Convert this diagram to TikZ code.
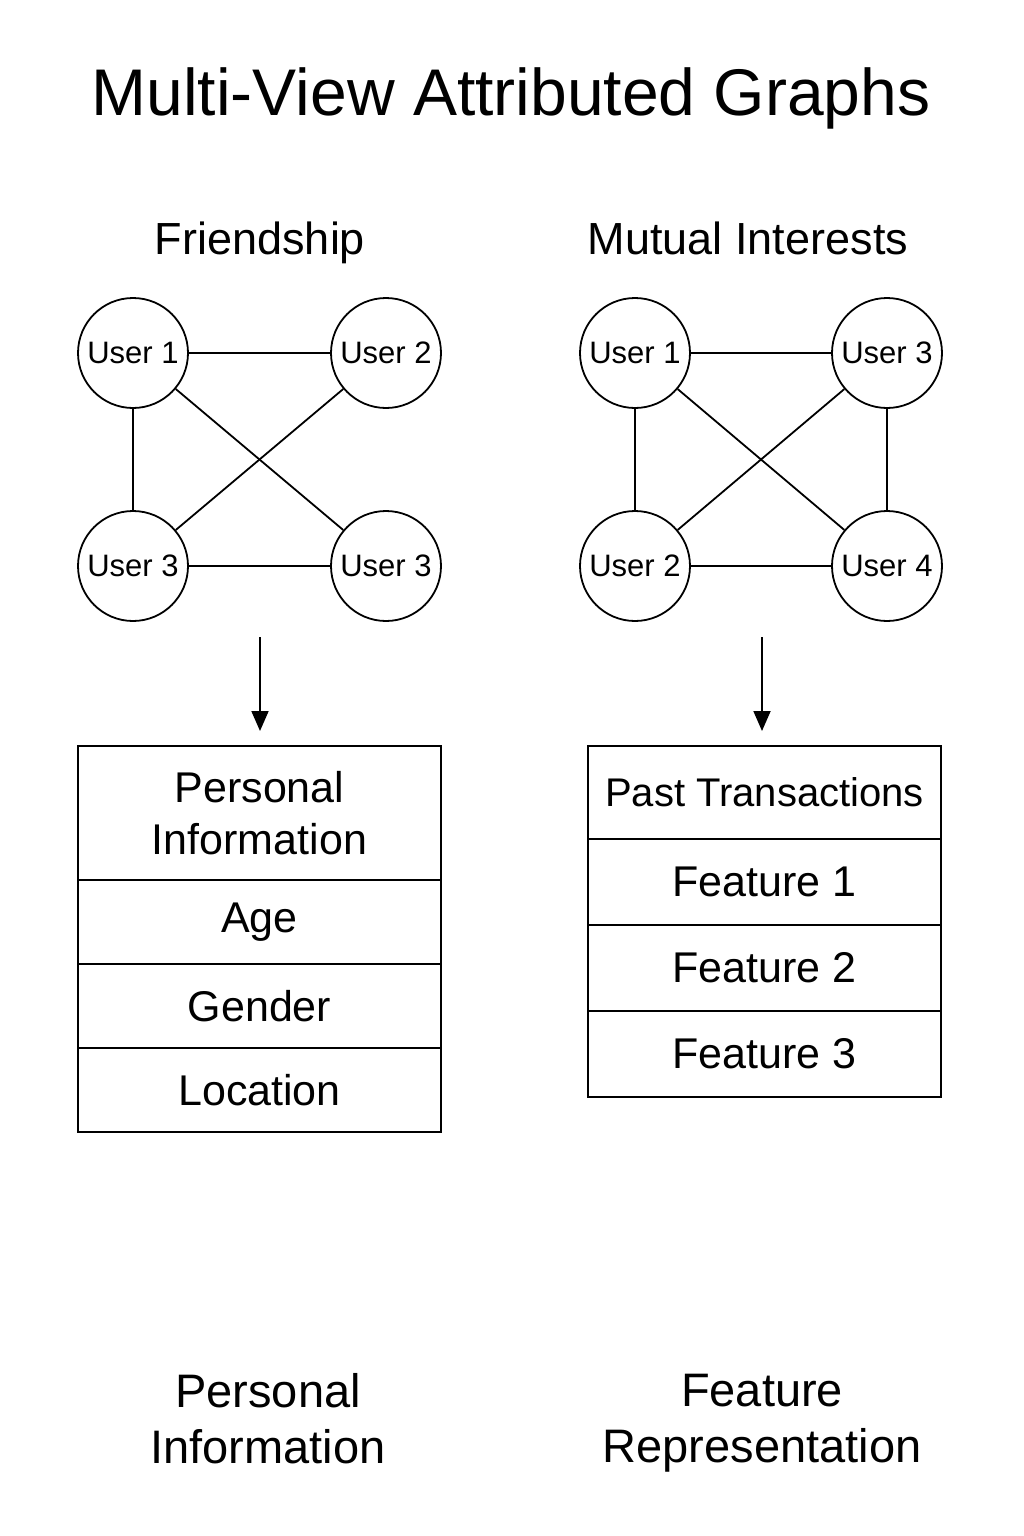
\documentclass[tikz,border=0pt]{standalone}
\usepackage{fontspec}
\setmainfont{Liberation Sans}
\usepackage{tikz}
\usetikzlibrary{arrows.meta,positioning,calc}

\begin{document}
\begin{tikzpicture}[x=1pt, y=-1pt, semithick, line width=1.8pt]
\tikzstyle{user}=[circle,draw=black,fill=white,minimum size=110pt,inner sep=0pt,font=\fontsize{31}{36}\selectfont]
\tikzstyle{head}=[anchor=base,font=\fontsize{45}{52}\selectfont]
\tikzstyle{foot}=[font=\fontsize{47}{56}\selectfont,align=center,text depth=0pt]
\tikzstyle{lrow}=[draw=black,outer sep=0pt,minimum width=363pt,minimum height=84pt,inner sep=0pt,align=center,font=\fontsize{43}{52}\selectfont]
\tikzstyle{rrow}=[draw=black,outer sep=0pt,minimum width=353pt,minimum height=86pt,inner sep=0pt,align=center,font=\fontsize{43}{52}\selectfont]
\tikzstyle{down}=[-{Triangle[width=17pt,length=20pt]}]
\useasboundingbox (0,0) rectangle (1024,1536);

% title and view names
\node[anchor=base,font=\fontsize{66}{76}\selectfont] (title) at (511,116) {Multi-View Attributed Graphs};
\node[head] (fhead) at (260,254) {Friendship};
\node[head] (mhead) at (748,254) {Mutual Interests};

% friendship view
\node[user] (f1) at (133,353) {User 1};
\node[user] (f2) at (386,353) {User 2};
\node[user] (f3) at (133,566) {User 3};
\node[user] (f4) at (386,566) {User 3};
\path
(f1) edge (f2)
     edge (f3)
     edge (f4)
(f2) edge (f3)
(f3) edge (f4)
;

% mutual interests view
\node[user] (m1) at (635,353) {User 1};
\node[user] (m3) at (887,353) {User 3};
\node[user] (m2) at (635,566) {User 2};
\node[user] (m4) at (887,566) {User 4};
\path
(m1) edge (m3)
     edge (m2)
     edge (m4)
(m3) edge (m2)
     edge (m4)
(m2) edge (m4)
;

% attribute tables
\coordinate (la) at (260,637);
\coordinate (lb) at (260,731);
\coordinate (ra) at (762,637);
\coordinate (rb) at (762,731);
\draw[down] (la) -- (lb);
\draw[down] (ra) -- (rb);

\node[lrow,minimum height=134pt,anchor=north] (l1) at (259.5,746) {Personal\\Information};
\node[lrow] (l2) [below=0pt of l1] {Age};
\node[lrow] (l3) [below=0pt of l2] {Gender};
\node[lrow] (l4) [below=0pt of l3] {Location};

\node[rrow,minimum height=93pt,anchor=north,font=\fontsize{40}{48}\selectfont] (r1) at (764.5,746) {Past Transactions};
\node[rrow] (r2) [below=0pt of r1] {Feature 1};
\node[rrow] (r3) [below=0pt of r2] {Feature 2};
\node[rrow] (r4) [below=0pt of r3] {Feature 3};

% captions
\node[foot] (lfoot) at (268,1418) {Personal\\Information};
\node[foot] (rfoot) at (762,1418) {Feature\\Representation};
\end{tikzpicture}
\end{document}
